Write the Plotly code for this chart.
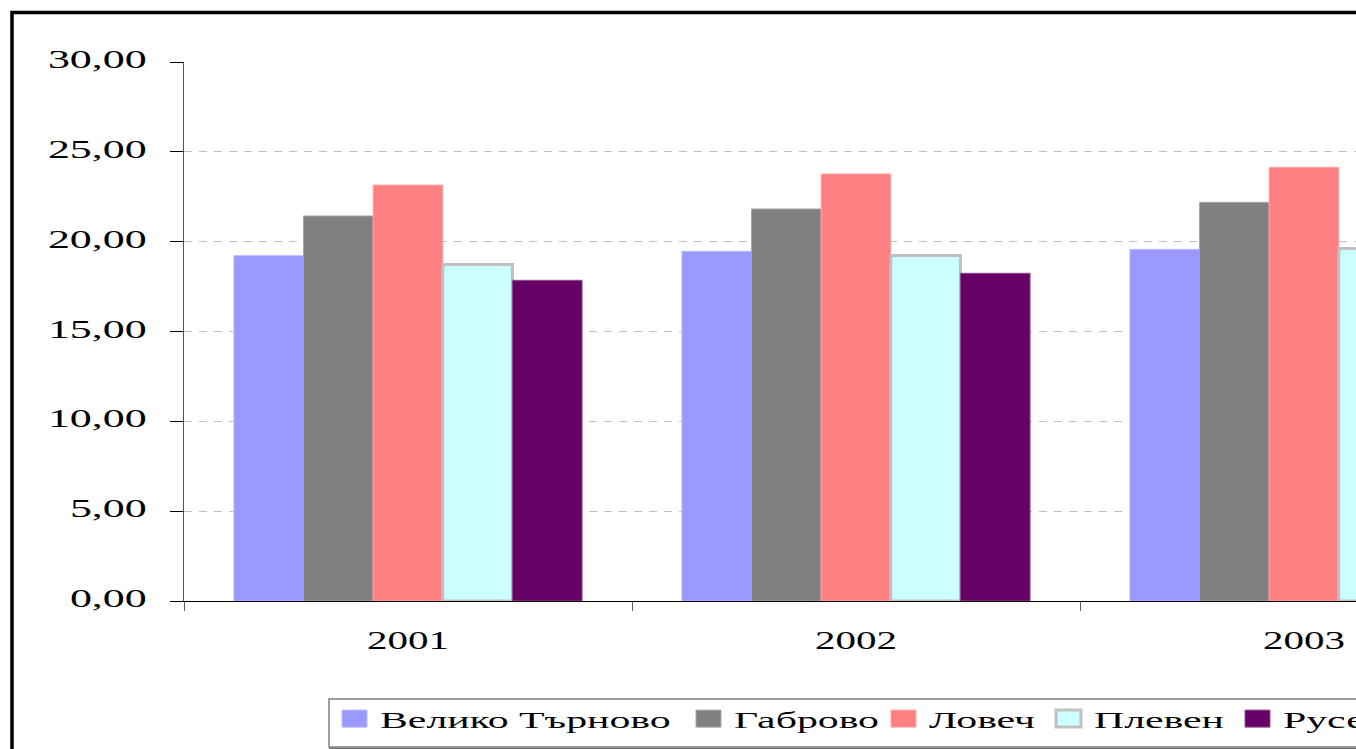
import plotly.graph_objects as go

years = ["2001", "2002", "2003"]
regions = ["Велико Търново", "Габрово", "Ловеч", "Плевен", "Русе"]
veliko_tarnovo = [19.22, 19.46, 19.57]
gabrovo = [21.43, 21.82, 22.19]
lovech = [23.15, 23.77, 24.14]
pleven = [18.73, 19.23, 19.62]
ruse = [17.85, 18.24, 18.60]
series = [veliko_tarnovo, gabrovo, lovech, pleven, ruse]

fill_colors = ["#9999FF", "#808080", "#FF8080", "#CCFFFF", "#660066"]
line_colors = ["#B8B8FF", "#A6A6A6", "#FFA6A6", "#C0C0C0", "#8C4C8C"]
line_widths = [1, 1, 1, 3, 1]

FONT = "Liberation Serif"

# pixel geometry of the full (larger) chart; the window shows its top-left part
W, H = 1600, 800
L, R, T, B = 184, 72, 62, 199
PW, PH = W - L - R, H - T - B


def px_x(px):
    return (px - L) / PW


def px_y(py):
    return (H - B - py) / PH


legend_text_starts = [381, 735, 930, 1095, 1284]
legend_names = ["legend", "legend2", "legend3", "legend4", "legend5"]

fig = go.Figure()
for i, (name, vals) in enumerate(zip(regions, series)):
    fig.add_trace(go.Bar(
        x=years, y=vals, name=name,
        marker=dict(color=fill_colors[i],
                    line=dict(color=line_colors[i], width=line_widths[i])),
        legend=legend_names[i],
    ))

legend_cfg = {}
for i, ln in enumerate(legend_names):
    legend_cfg[ln] = dict(
        x=px_x(legend_text_starts[i] - 41), xanchor="left",
        y=px_y(719), yanchor="middle",
        orientation="h", bgcolor="rgba(0,0,0,0)", borderwidth=0,
        font=dict(family=FONT, size=24, color="black"),
    )

fig.update_layout(
    width=W, height=H,
    margin=dict(l=L, r=R, t=T, b=B, pad=0),
    paper_bgcolor="white", plot_bgcolor="white",
    separators=", ",
    barmode="group", bargap=0.223, bargroupgap=0,
    showlegend=True,
    **legend_cfg,
    xaxis=dict(
        type="category", showline=True, linecolor="black", linewidth=1,
        ticks="outside", tickson="boundaries", ticklen=9, tickcolor="#606060",
        tickfont=dict(family=FONT, size=25, color="black"),
        ticklabelstandoff=17, showgrid=False, zeroline=False,
    ),
    yaxis=dict(
        range=[0, 30], dtick=5, tick0=0, tickformat=".2f",
        showline=True, linecolor="#555555", linewidth=1,
        ticks="outside", ticklen=13, tickcolor="black",
        tickfont=dict(family=FONT, size=26, color="black"),
        ticklabelstandoff=18,
        showgrid=True, gridcolor="#C0C0C0", gridwidth=1, griddash="8px,7px",
        zeroline=False,
    ),
    shapes=[
        # outer chart border
        dict(type="rect", xref="paper", yref="paper",
             x0=px_x(12), x1=px_x(1585), y0=px_y(790), y1=px_y(12.5),
             line=dict(color="black", width=3.5), fillcolor="rgba(0,0,0,0)"),
        # legend box
        dict(type="rect", xref="paper", yref="paper",
             x0=px_x(329), x1=px_x(1480), y0=px_y(747), y1=px_y(699),
             line=dict(color="#808080", width=1.5), fillcolor="rgba(0,0,0,0)"),
        dict(type="line", xref="paper", yref="paper",
             x0=px_x(329), x1=px_x(1480), y0=px_y(748.5), y1=px_y(748.5),
             line=dict(color="#707070", width=1.5)),
    ],
)

post = """
document.body.style.margin='0';
document.body.style.overflow='hidden';
var gd = document.getElementById('{plot_id}');
var SYM_T = 'translate(14.5,0) scale(2.08,1.42)';
function stretch(sel, k){
  gd.querySelectorAll(sel).forEach(function(t){
    try{
      var txt = t.textContent;
      if(t.getAttribute('data-st') === txt) return;
      t.removeAttribute('textLength');
      var w = t.getComputedTextLength();
      if(w>0){
        t.setAttribute('textLength', (w*k).toFixed(1));
        t.setAttribute('lengthAdjust','spacingAndGlyphs');
        t.setAttribute('data-st', txt);
      }
    }catch(e){}
  });
}
function adjY(sel, dy){
  gd.querySelectorAll(sel).forEach(function(t){
    var cur = t.getAttribute('y');
    if (cur === null || t.getAttribute('data-yset') === cur) return;
    var ny = (parseFloat(cur) + dy).toFixed(2);
    t.setAttribute('data-yset', ny);
    t.setAttribute('y', ny);
  });
}
var busy = false;
function fixAll(){
  if (busy) return;
  busy = true;
  try {
    stretch('.ytick text', 1.69);
    stretch('.xtick text', 1.64);
    stretch('g.traces > text', 1.74);
    adjY('.ytick text', -3);
    gd.querySelectorAll('g.scrollbox').forEach(function(s){
      if (s.getAttribute('clip-path')) s.removeAttribute('clip-path');
    });
    gd.querySelectorAll('g.legendpoints path').forEach(function(p){
      if (p.getAttribute('transform') !== SYM_T) p.setAttribute('transform', SYM_T);
      if (p.getAttribute('vector-effect') !== 'non-scaling-stroke')
        p.setAttribute('vector-effect','non-scaling-stroke');
    });
  } catch(e) {}
  busy = false;
}
fixAll();
try {
  var mo = new MutationObserver(function(){ fixAll(); });
  mo.observe(gd, {subtree: true, childList: true, attributes: true, characterData: true});
} catch(e) {}
if (gd.on) { gd.on('plotly_afterplot', fixAll); }
requestAnimationFrame(fixAll);
setTimeout(fixAll, 50);
setTimeout(fixAll, 300);
"""

fig.write_html("out.html", post_script=post, config={"displayModeBar": False})
